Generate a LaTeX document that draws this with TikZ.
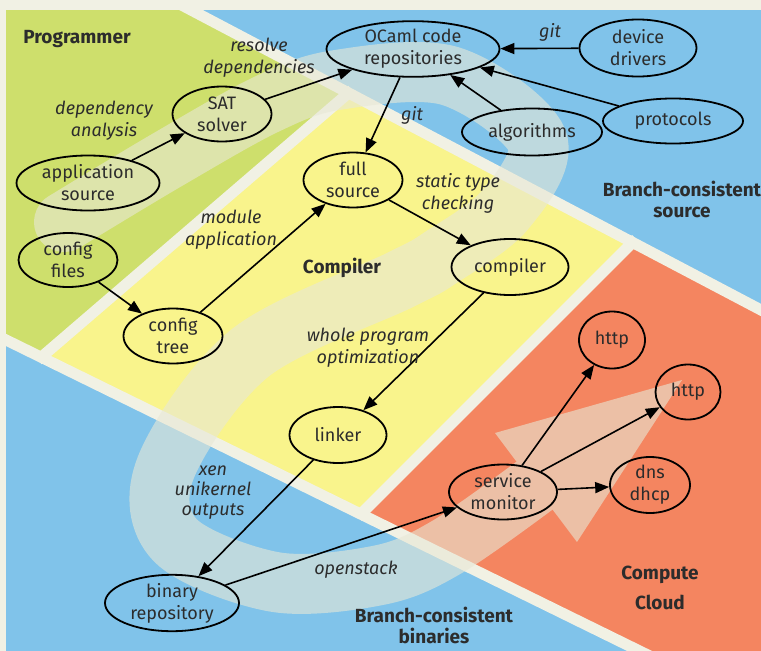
\documentclass[tikz,border=0pt]{standalone}
\usepackage{fontspec}
\setmainfont{Fira Sans}
\usetikzlibrary{shapes.geometric,arrows.meta}

\definecolor{creamcol}{HTML}{F1F1E4}
\definecolor{bluecol}{HTML}{80C3EA}
\definecolor{greencol}{HTML}{CEDF6C}
\definecolor{yellowcol}{HTML}{F9F48C}
\definecolor{orangecol}{HTML}{F48560}
\definecolor{swirlcol}{RGB}{232,232,214}
\definecolor{textcol}{HTML}{2C2C2C}

\begin{document}
\begin{tikzpicture}[x=1pt,y=-1pt,
  box/.style={draw=black,line width=1.8pt,ellipse,inner sep=0pt,align=center,text=textcol,font=\fontsize{18}{22}\selectfont},
  lbl/.style={align=center,text=textcol,font=\fontsize{18}{22}\selectfont\itshape},
  area/.style={align=center,text=textcol,font=\fontsize{19}{21}\selectfont\bfseries},
  flow/.style={line width=1.6pt,-{Triangle[length=14pt,width=11pt]}},
  stripe/.style={creamcol,line width=11pt}]

   \useasboundingbox (0,0) rectangle (761,651);
   % background areas
   \fill[creamcol] (0,0) rectangle (761,651);
   \fill[bluecol] (6,10) rectangle (761,651);
   \fill[greencol] (6,10) -- (191,10) -- (348,93) -- (42,357) -- (6,340) -- cycle;
   \fill[yellowcol] (348,93) -- (633,242) -- (361,514) -- (42,357) -- cycle;
   \fill[orangecol] (633,242) -- (761,310) -- (761,651) -- (640,651) -- (361,514) -- cycle;
   \begin{scope}
     \clip (6,10) rectangle (761,651);
     \draw[stripe] (172,0) -- (780,320);
     \draw[stripe] (0,337) -- (660,661);
     \draw[stripe] (352,90) -- (38,360);
     \draw[stripe] (636,239) -- (358,517);
   \end{scope}

   % swirl
   \begin{scope}[transparency group,opacity=0.6]
     \draw[swirlcol,line width=60pt,line cap=round] plot[smooth,tension=0.55] coordinates {(64,222) (167,160) (267,104) (337,80) (450,76) (537,140) (505,210) (440,258) (400,280) (250,353) (166,467) (175,540) (275,582) (380,575) (447,547) (534,486)};
     \fill[swirlcol] (495,433) -- (682,380) -- (577,542) -- cycle;
   \end{scope}

   % area titles
   \node[area] (programmer) at (77,39) {Programmer};
   \node[area] (compilerarea) at (342,268) {Compiler};
   \node[area] (bcsource) at (682,199) {Branch-consistent\\source};
   \node[area] (bcbinaries) at (434,625) {Branch-consistent\\binaries};
   \node[area,font=\fontsize{19}{30}\selectfont\bfseries] (cloud) at (660,588) {Compute\\Cloud};

   % nodes
   \node[box,minimum width=173pt,minimum height=55pt] (ocaml) at (413,49) {OCaml code\\repositories};
   \node[box,minimum width=117pt,minimum height=57pt] (drivers) at (638,48) {device\\drivers};
   \node[box,minimum width=140pt,minimum height=45pt] (protocols) at (673,121) {protocols};
   \node[box,minimum width=140pt,minimum height=47pt] (algorithms) at (532,132) {algorithms};
   \node[box,minimum width=99pt,minimum height=55pt] (sat) at (222,114) {SAT\\solver};
   \node[box,minimum width=143pt,minimum height=55pt] (appsrc) at (88,183) {application\\source};
   \node[box,minimum width=99pt,minimum height=54pt] (cfgfiles) at (68,260) {config\\files};
   \node[box,minimum width=99pt,minimum height=55pt] (fullsrc) at (353,180) {full\\source};
   \node[box,minimum width=117pt,minimum height=56pt] (compiler) at (510,267) {compiler};
   \node[box,minimum width=99pt,minimum height=55pt] (cfgtree) at (173,336) {config\\tree};
   \node[box,minimum width=97pt,minimum height=56pt] (linker) at (338,435) {linker};
   \node[box,minimum width=134pt,minimum height=55pt] (binrepo) at (172,603) {binary\\repository};
   \node[box,minimum width=108pt,minimum height=55pt] (monitor) at (503,492) {service\\monitor};
   \node[box,minimum width=66pt,minimum height=57pt] (httpa) at (612,340) {http};
   \node[box,minimum width=65pt,minimum height=55pt] (httpb) at (688,392) {http};
   \node[box,minimum width=80pt,minimum height=56pt] (dns) at (650,485) {dns\\dhcp};

   % connectors
   \draw[flow] (appsrc) -- (sat);
   \draw[flow] (sat) -- (ocaml);
   \draw[flow] (drivers) -- (ocaml);
   \draw[flow] (algorithms) -- (ocaml);
   \draw[flow] (protocols) -- (ocaml);
   \draw[flow] (ocaml) -- (fullsrc);
   \draw[flow] (cfgfiles) -- (cfgtree);
   \draw[flow] (cfgtree) -- (fullsrc);
   \draw[flow] (fullsrc) -- (compiler);
   \draw[flow] (compiler) -- (linker);
   \draw[flow] (linker) -- (binrepo);
   \draw[flow] (binrepo) -- (monitor);
   \draw[flow] (monitor) -- (httpa);
   \draw[flow] (monitor) -- (httpb);
   \draw[flow] (monitor) -- (dns);

   % connector labels
   \node[lbl] (depanalysis) at (104,121) {dependency\\analysis};
   \node[lbl] (resolve) at (259,58) {resolve\\dependencies};
   \node[lbl] (gittop) at (550,32) {git};
   \node[lbl] (gitmid) at (412,115) {git};
   \node[lbl] (typecheck) at (458,193) {static type\\checking};
   \node[lbl] (modapp) at (231,230) {module\\application};
   \node[lbl] (wpo) at (368,348) {whole program\\optimization};
   \node[lbl,font=\fontsize{18}{20}\selectfont\itshape] (xen) at (213,493) {xen\\unikernel\\outputs};
   \node[lbl] (openstack) at (356,570) {openstack};
\end{tikzpicture}
\end{document}
